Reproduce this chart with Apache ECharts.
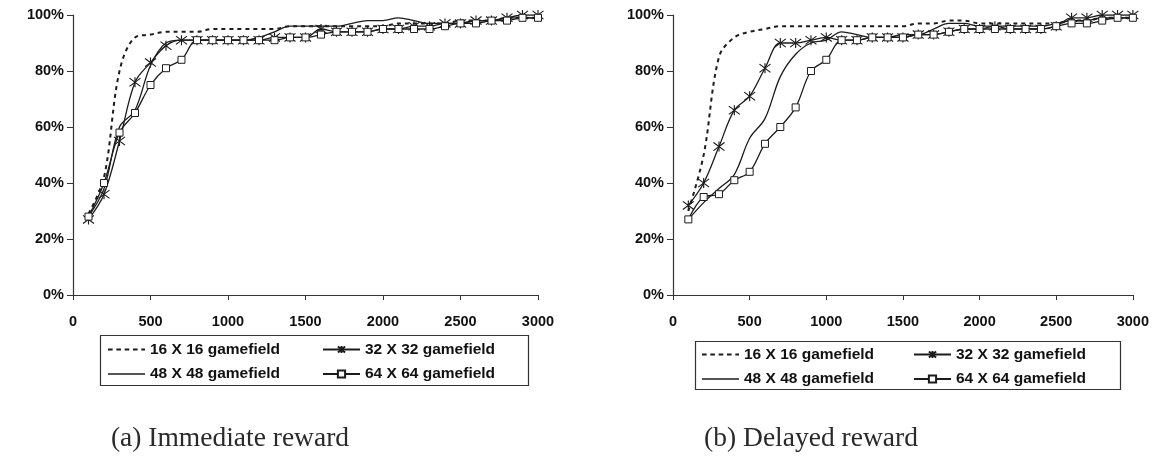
<!DOCTYPE html>
<html>
<head>
<meta charset="utf-8">
<script src="https://cdn.jsdelivr.net/npm/echarts@6/dist/echarts.min.js"></script>
<style>
  html, body { margin: 0; padding: 0; background: #fff; }
  #chart { width: 1152px; height: 462px; }
</style>
</head>
<body>
<div id="chart"></div>
<script>
// Training steps (x axis)
const steps = [100, 200, 300, 400, 500, 600, 700, 800, 900, 1000,
               1100, 1200, 1300, 1400, 1500, 1600, 1700, 1800, 1900, 2000,
               2100, 2200, 2300, 2400, 2500, 2600, 2700, 2800, 2900, 3000];

const seriesNames = ['16 X 16 gamefield', '32 X 32 gamefield', '48 X 48 gamefield', '64 X 64 gamefield'];
const yTicks = [0, 20, 40, 60, 80, 100];
const xTicks = [0, 500, 1000, 1500, 2000, 2500, 3000];
const captions = ['(a) Immediate reward', '(b) Delayed reward'];

// (a) Immediate reward, success rate in %
const immediate16 = [29, 42, 80, 92, 93, 94, 94, 94, 95, 95, 95, 95, 95, 96, 96, 96, 96, 96, 96, 96, 97, 97, 97, 97, 98, 98, 98, 99, 99, 99];
const immediate32 = [27, 36, 55, 76, 83, 89, 91, 91, 91, 91, 91, 91, 92, 92, 92, 95, 94, 94, 94, 95, 95, 96, 96, 97, 97, 98, 98, 99, 100, 100];
const immediate48 = [28, 38, 60, 66, 82, 90, 91, 91, 91, 91, 91, 92, 94, 96, 96, 96, 96, 97, 98, 98, 99, 98, 97, 97, 97, 98, 98, 99, 99, 99];
const immediate64 = [28, 40, 58, 65, 75, 81, 84, 91, 91, 91, 91, 91, 91, 92, 92, 93, 94, 94, 94, 95, 95, 95, 95, 96, 97, 97, 98, 98, 99, 99];

// (b) Delayed reward, success rate in %
const delayed16 = [30, 50, 85, 92, 94, 95, 96, 96, 96, 96, 96, 96, 96, 96, 96, 97, 97, 98, 98, 97, 97, 97, 97, 97, 97, 98, 98, 99, 99, 99];
const delayed32 = [32, 40, 53, 66, 71, 81, 90, 90, 91, 92, 91, 91, 92, 92, 92, 93, 93, 94, 95, 95, 96, 95, 95, 95, 96, 99, 99, 100, 100, 100];
const delayed48 = [27, 33, 38, 43, 56, 63, 78, 86, 90, 91, 94, 93, 92, 92, 93, 93, 95, 97, 97, 96, 96, 96, 96, 96, 97, 98, 98, 99, 99, 99];
const delayed64 = [27, 35, 36, 41, 44, 54, 60, 67, 80, 84, 91, 91, 92, 92, 92, 93, 93, 94, 95, 95, 95, 95, 95, 95, 96, 97, 97, 98, 99, 99];

const INK = '#1c1c1c';
const FONT = '"Liberation Sans", Arial, sans-serif';
const SERIF = '"Liberation Serif", "DejaVu Serif", serif';
const STAR = 'path://M0,0L10,9M10,0L0,9M5,-1L5,10';
// Legend keys drawn as plain strokes (no marker)
const KEY_DASHED = 'path://M0,0h5v2h-5zM9,0h5v2h-5zM18,0h5v2h-5zM27,0h5v2h-5zM36,0h4v2h-4z';
const KEY_SOLID = 'path://M0,0h40v1.6h-40z';

function pairs(values) {
  return steps.map((s, i) => [s, values[i]]);
}

function styleFor(idx) {
  const base = { type: 'line', smooth: 0.35, animation: false, z: 3 };
  if (idx === 0) {
    return Object.assign(base, {
      symbol: 'none', showSymbol: false,
      lineStyle: { color: INK, width: 2, type: [4, 4] },
      itemStyle: { color: INK }
    });
  }
  if (idx === 1) {
    return Object.assign(base, {
      symbol: STAR, symbolSize: [11, 10], showSymbol: true,
      lineStyle: { color: INK, width: 1.3 },
      itemStyle: { color: INK, borderColor: INK, borderWidth: 1.1 }
    });
  }
  if (idx === 2) {
    return Object.assign(base, {
      symbol: 'none', showSymbol: false,
      lineStyle: { color: INK, width: 1.3 },
      itemStyle: { color: INK }
    });
  }
  return Object.assign(base, {
    symbol: 'rect', symbolSize: 7, showSymbol: true,
    lineStyle: { color: INK, width: 1.3 },
    itemStyle: { color: '#ffffff', borderColor: INK, borderWidth: 1 }
  });
}

function buildSeries(gridIdx, arrays) {
  return arrays.map((vals, i) => Object.assign(styleFor(i), {
    name: seriesNames[i],
    xAxisIndex: gridIdx,
    yAxisIndex: gridIdx,
    data: pairs(vals)
  }));
}

function xAxis(gridIndex) {
  return {
    type: 'value', gridIndex,
    min: xTicks[0], max: xTicks[xTicks.length - 1], interval: 500,
    axisLine: { show: true, onZero: false, lineStyle: { color: '#333', width: 1.2 } },
    axisTick: { show: true, length: 5, lineStyle: { color: '#333' } },
    splitLine: { show: false },
    axisLabel: { color: '#111', fontFamily: FONT, fontWeight: 'bold', fontSize: 14.5, margin: 19,
                 formatter: v => String(v) }
  };
}

function yAxis(gridIndex) {
  return {
    type: 'value', gridIndex,
    min: yTicks[0], max: yTicks[yTicks.length - 1], interval: 20,
    axisLine: { show: true, lineStyle: { color: '#333', width: 1.2 } },
    axisTick: { show: true, length: 6, lineStyle: { color: '#333' } },
    splitLine: { show: false },
    axisLabel: { color: '#111', fontFamily: FONT, fontWeight: 'bold', fontSize: 14.5, margin: 9, formatter: '{value}%' }
  };
}

function legend(left, top, items) {
  return {
    left, top, orient: 'vertical',
    data: items,
    itemWidth: 37, itemHeight: 9, itemGap: 8.5,
    selectedMode: false,
    padding: 0,
    textStyle: { color: '#111', fontFamily: FONT, fontWeight: 'bold', fontSize: 15.5 }
  };
}

const leftColumn = [
  { name: seriesNames[0], icon: KEY_DASHED },
  { name: seriesNames[2], icon: KEY_SOLID }
];
const rightColumn = [
  { name: seriesNames[1] },
  { name: seriesNames[3] }
];

const option = {
  backgroundColor: '#ffffff',
  animation: false,
  grid: [
    { left: 73, top: 15, width: 465, height: 280 },
    { left: 673, top: 15, width: 464, height: 280 }
  ],
  xAxis: [xAxis(0), xAxis(1)],
  yAxis: [yAxis(0), yAxis(1)],
  legend: [
    legend(108, 341.5, leftColumn),
    legend(322, 341.5, rightColumn),
    legend(702, 346.5, leftColumn),
    legend(913, 346.5, rightColumn)
  ],
  title: [
    { text: captions[0], left: 225, top: 420, textAlign: 'center',
      textStyle: { fontFamily: SERIF, fontWeight: 'normal', fontSize: 27.5, color: '#2a2a2a' } },
    { text: captions[1], left: 806, top: 420, textAlign: 'center',
      textStyle: { fontFamily: SERIF, fontWeight: 'normal', fontSize: 27.5, color: '#2a2a2a' } }
  ],
  graphic: [
    { type: 'rect', shape: { x: 100.5, y: 335.5, width: 428, height: 50 },
      style: { fill: 'none', stroke: '#333', lineWidth: 1.2 }, z: 1 },
    { type: 'rect', shape: { x: 695.5, y: 341.5, width: 425, height: 48 },
      style: { fill: 'none', stroke: '#333', lineWidth: 1.2 }, z: 1 }
  ],
  series: [
    ...buildSeries(0, [immediate16, immediate32, immediate48, immediate64]),
    ...buildSeries(1, [delayed16, delayed32, delayed48, delayed64])
  ]
};

const chart = echarts.init(document.getElementById('chart'), null, { renderer: 'canvas' });
chart.setOption(option);
</script>
</body>
</html>
